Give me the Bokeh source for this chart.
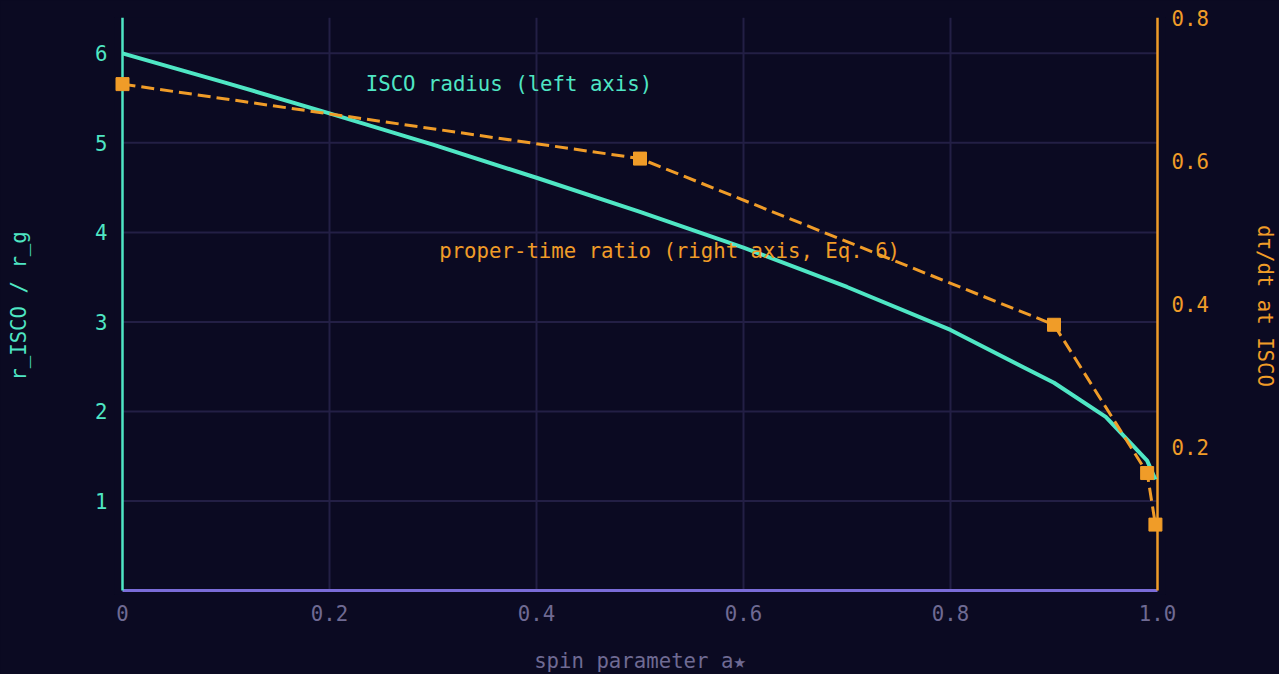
from bokeh.plotting import figure
from bokeh.models import Range1d, LinearAxis, FixedTicker, Label
from bokeh.embed import file_html
from bokeh.resources import INLINE

# data
spin = [0.0, 0.1, 0.2, 0.3, 0.4, 0.5, 0.6, 0.7, 0.8, 0.9, 0.95, 0.99, 0.998]
r_isco = [6.0, 5.67, 5.33, 4.98, 4.61, 4.23, 3.83, 3.39, 2.91, 2.32, 1.94, 1.45, 1.24]
spin_tau = [0.0, 0.5, 0.9, 0.99, 0.998]
tau_ratio = [0.707, 0.603, 0.371, 0.164, 0.092]
x_ticks = [0, 0.2, 0.4, 0.6, 0.8, 1.0]
x_tick_labels = ["0", "0.2", "0.4", "0.6", "0.8", "1.0"]
left_ticks = [1, 2, 3, 4, 5, 6]
right_ticks = [0.2, 0.4, 0.6, 0.8]
x_min, x_max = 0.0, 1.0
y_min, y_max = 0.0, 6.4
r_min, r_max = 0.0, 0.8

BG = "#0b0a22"
TEAL = "#4fe6c4"
ORANGE = "#f09c28"
PURPLE = "#7a6cd8"
MUTED = "#6f6a93"
GRID = "#231f45"
FONT = "DejaVu Sans Mono"
FS = "20.7px"

# plot area geometry (pixels); small padding so edge markers are not clipped
FW, FH = 1035, 573
PADX, PADY = 8, 4
dx = (x_max - x_min) * PADX / FW
dy = (y_max - y_min) * PADY / FH
dr = (r_max - r_min) * PADY / FH

p = figure(output_backend="svg", toolbar_location=None,
           x_range=Range1d(x_min - dx, x_max + dx),
           y_range=Range1d(y_min - dy, y_max),
           frame_width=FW + 2 * PADX, frame_height=FH + PADY,
           min_border_left=114, min_border_right=112,
           min_border_top=17, min_border_bottom=80,
           background_fill_color=BG, border_fill_color=BG,
           outline_line_color=None)
p.styles = {"background-color": BG}

p.extra_y_ranges = {"tau": Range1d(r_min - dr, r_max)}

# axes (labels only; axis lines drawn below as glyphs)
xa = p.xaxis[0]
xa.ticker = FixedTicker(ticks=x_ticks)
xa.major_label_overrides = {t: l for t, l in zip(x_ticks, x_tick_labels)}
xa.axis_label = "spin parameter a\u2605"

ya = p.yaxis[0]
ya.ticker = FixedTicker(ticks=left_ticks)
ya.axis_label = "r_ISCO / r_g"

ra = LinearAxis(y_range_name="tau", ticker=FixedTicker(ticks=right_ticks),
                axis_label="d\u03c4/dt at ISCO")
p.add_layout(ra, "right")

for ax, col in [(xa, MUTED), (ya, TEAL), (ra, ORANGE)]:
    ax.axis_line_color = None
    ax.major_tick_line_color = None
    ax.minor_tick_line_color = None
    ax.major_label_text_font = FONT
    ax.major_label_text_font_size = FS
    ax.major_label_text_color = col
    ax.axis_label_text_font = FONT
    ax.axis_label_text_font_size = FS
    ax.axis_label_text_font_style = "normal"
    ax.axis_label_text_color = col

xa.major_label_standoff = 4
ya.major_label_standoff = 1
ra.major_label_standoff = 0
xa.axis_label_standoff = 25
ya.axis_label_standoff = 61
ra.axis_label_standoff = 41

p.xgrid.visible = False
p.ygrid.visible = False

# grid lines within the axes box
vx = [t for t in x_ticks if x_min < t < x_max]
p.segment(x0=vx, y0=[y_min] * len(vx), x1=vx, y1=[y_max] * len(vx),
          line_color=GRID, line_width=2)
p.segment(x0=[x_min] * len(left_ticks), y0=left_ticks,
          x1=[x_max] * len(left_ticks), y1=left_ticks,
          line_color=GRID, line_width=2)

# axis lines
p.segment(x0=[x_min], y0=[y_min], x1=[x_max], y1=[y_min], line_color=PURPLE, line_width=3)
p.segment(x0=[x_min], y0=[y_min], x1=[x_min], y1=[y_max], line_color=TEAL, line_width=2.5)
p.segment(x0=[x_max], y0=[y_min], x1=[x_max], y1=[y_max], line_color=ORANGE, line_width=2.5)

# series
p.line(spin, r_isco, line_color=TEAL, line_width=4)
p.line(spin_tau, tau_ratio, y_range_name="tau", line_color=ORANGE,
       line_width=3, line_dash="13 6")
p.scatter(spin_tau, tau_ratio, y_range_name="tau", marker="square", size=13,
          fill_color=ORANGE, line_color=ORANGE)

# annotations
p.add_layout(Label(x=0.235, y=5.66, text="ISCO radius (left axis)",
                   text_font=FONT, text_font_size=FS, text_color=TEAL,
                   text_baseline="middle"))
p.add_layout(Label(x=0.306, y=0.474, y_range_name="tau",
                   text="proper-time ratio (right axis, Eq. 6)",
                   text_font=FONT, text_font_size=FS, text_color=ORANGE,
                   text_baseline="middle"))

open("out.html", "w").write(file_html(p, INLINE))
